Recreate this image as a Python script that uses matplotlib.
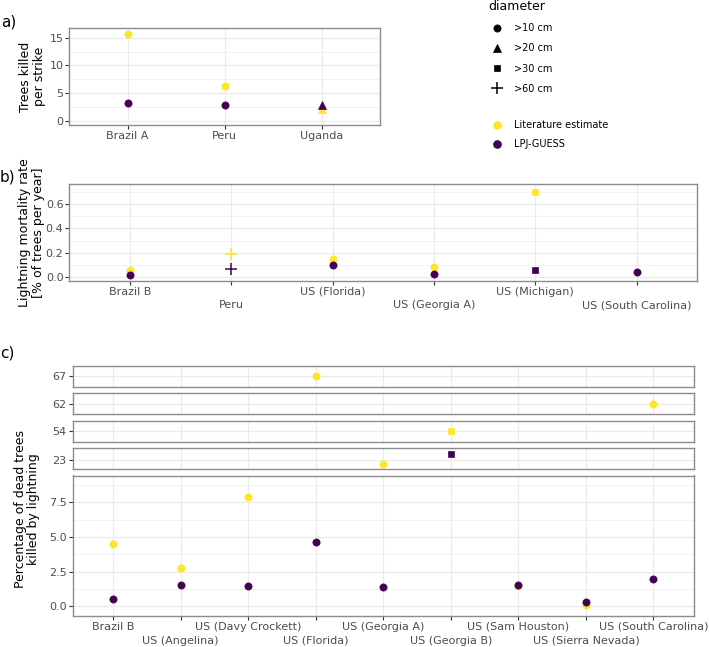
import numpy as np
import matplotlib
matplotlib.use("Agg")
import matplotlib.pyplot as plt
from matplotlib.lines import Line2D
from matplotlib.ticker import FixedLocator
from matplotlib.transforms import ScaledTranslation

# ---- data ----
a_sites = ["Brazil A", "Peru", "Uganda"]
a_lit = [15.6, 6.35, 2.1]
a_lpj = [3.24, 2.82, 2.88]
a_diam = [">10 cm", ">10 cm", ">20 cm"]

b_sites = ["Brazil B", "Peru", "US (Florida)", "US (Georgia A)", "US (Michigan)", "US (South Carolina)"]
b_lit = [0.058, 0.19, 0.145, 0.085, 0.696, np.nan]
b_lpj = [0.016, 0.063, 0.096, 0.027, 0.055, 0.038]
b_diam = [">10 cm", ">60 cm", ">10 cm", ">10 cm", ">30 cm", ">10 cm"]

c_sites = ["Brazil B", "US (Angelina)", "US (Davy Crockett)", "US (Florida)", "US (Georgia A)",
           "US (Georgia B)", "US (Sam Houston)", "US (Sierra Nevada)", "US (South Carolina)"]
c_lit = [4.49, 2.78, 7.88, 67, 22, 54, 1.45, 0.1, 62]
c_lpj = [0.55, 1.54, 1.46, 4.66, 1.39, 24.5, 1.54, 0.29, 1.99]
c_diam = [">10 cm"] * 5 + [">30 cm"] + [">10 cm"] * 3

# broken axis segments of panel c (tick shown, limits)
c_breaks = [67, 62, 54, 23]
c_break_lims = [(64.4, 69.5), (59.35, 64.6), (51.4, 56.65), (20.75, 25.85)]

diam_classes = [">10 cm", ">20 cm", ">30 cm", ">60 cm"]
markers = {">10 cm": "o", ">20 cm": "^", ">30 cm": "s", ">60 cm": "+"}
msize = {"o": 5.2, "^": 5.6, "s": 5.0, "+": 8}
col_lit = "#FDE725"
col_lpj = "#440154"
grid_col = "#EBEBEB"
spine_col = "#8C8C8C"
txt_col = "#4D4D4D"

W, H = 709, 647
fig = plt.figure(figsize=(W / 100, H / 100), dpi=100)


def add_px(l, t, r, b):
    return fig.add_axes([l / W, 1 - b / H, (r - l) / W, (b - t) / H])


def style(ax, xticks=True):
    for s in ax.spines.values():
        s.set_color(spine_col)
        s.set_linewidth(1.0)
    ax.set_axisbelow(True)
    ax.grid(True, which="major", color=grid_col, lw=0.9)
    ax.grid(True, which="minor", axis="y", color=grid_col, lw=0.5)
    ax.tick_params(which="major", length=2.75, width=0.8, color="#333333",
                   labelsize=8, labelcolor=txt_col, pad=1.5)
    ax.tick_params(which="minor", length=0)
    if not xticks:
        ax.tick_params(axis="x", length=0, labelbottom=False)


def draw_points(ax, vals, diam, color):
    vals = np.asarray(vals, dtype=float)
    x = np.arange(len(vals))
    for d in diam_classes:
        idx = [i for i in range(len(vals)) if diam[i] == d and not np.isnan(vals[i])]
        if not idx:
            continue
        m = markers[d]
        ax.plot(x[idx], vals[idx], linestyle="none", marker=m, color=color,
                ms=msize[m], mew=1.1 if m == "+" else 0.5)


def set_cats(ax, sites, dodge=False):
    n = len(sites)
    ax.set_xlim(-0.6, n - 0.4)
    ax.set_xticks(range(n))
    ax.set_xticklabels(sites)
    if dodge:
        # second row of labels, like guide_axis(n.dodge = 2)
        shift = ScaledTranslation(0, -13.6 / 100, fig.dpi_scale_trans)
        for i, lab in enumerate(ax.get_xticklabels()):
            if i % 2 == 1:
                lab.set_transform(lab.get_transform() + shift)


# ---- panel a ----
ax_a = add_px(69.3, 28.3, 380, 125)
style(ax_a)
draw_points(ax_a, a_lit, a_diam, col_lit)
draw_points(ax_a, a_lpj, a_diam, col_lpj)
set_cats(ax_a, a_sites)
ax_a.set_ylim(-0.72, 16.7)
ax_a.yaxis.set_major_locator(FixedLocator([0, 5, 10, 15]))
ax_a.yaxis.set_minor_locator(FixedLocator([2.5, 7.5, 12.5]))

# ---- panel b ----
ax_b = add_px(69.3, 184.3, 697.3, 280.7)
style(ax_b)
draw_points(ax_b, b_lit, b_diam, col_lit)
draw_points(ax_b, b_lpj, b_diam, col_lpj)
set_cats(ax_b, b_sites, dodge=True)
ax_b.set_ylim(-0.03, 0.762)
ax_b.yaxis.set_major_locator(FixedLocator([0, 0.2, 0.4, 0.6]))
ax_b.yaxis.set_minor_locator(FixedLocator([0.1, 0.3, 0.5, 0.7]))
ax_b.set_yticklabels(["0.0", "0.2", "0.4", "0.6"])

# ---- panel c: stacked strips for large values ----
strip_px = [(366.3, 386.7), (393.3, 414.3), (420.7, 441.7), (448.3, 468.7)]
for (t, b), brk, lim in zip(strip_px, c_breaks, c_break_lims):
    ax_s = add_px(72.5, t, 694, b)
    style(ax_s, xticks=False)
    draw_points(ax_s, c_lit, c_diam, col_lit)
    draw_points(ax_s, c_lpj, c_diam, col_lpj)
    set_cats(ax_s, c_sites)
    ax_s.set_ylim(*lim)
    ax_s.set_yticks([brk])
    ax_s.set_yticklabels([str(brk)])

ax_c = add_px(72.5, 475.5, 694, 616)
style(ax_c)
draw_points(ax_c, c_lit, c_diam, col_lit)
draw_points(ax_c, c_lpj, c_diam, col_lpj)
set_cats(ax_c, c_sites, dodge=True)
ax_c.set_ylim(-0.70, 9.43)
ax_c.yaxis.set_major_locator(FixedLocator([0, 2.5, 5, 7.5]))
ax_c.yaxis.set_minor_locator(FixedLocator([1.25, 3.75, 6.25, 8.75]))
ax_c.set_yticklabels(["0.0", "2.5", "5.0", "7.5"])

# ---- axis titles and panel letters ----
fig.text(32.5 / W, 1 - 76.7 / H, "Trees killed\nper strike", rotation=90,
         ha="center", va="center", ma="center", fontsize=9, color="black", linespacing=1.05)
fig.text(31.5 / W, 1 - 232.5 / H, "Lightning mortality rate\n[% of trees per year]", rotation=90,
         ha="center", va="center", ma="center", fontsize=9, color="black", linespacing=1.05)
fig.text(27 / W, 1 - 508.7 / H, "Percentage of dead trees\nkilled by lightning", rotation=90,
         ha="center", va="center", ma="center", fontsize=9, color="black", linespacing=1.05)

fig.text(1 / W, 1 - 21.7 / H, "a)", fontsize=11, va="center", ha="left")
fig.text(0 / W, 1 - 176.7 / H, "b)", fontsize=11, va="center", ha="left")
fig.text(0 / W, 1 - 353.3 / H, "c)", fontsize=11, va="center", ha="left")

# ---- legends ----
shape_handles = [Line2D([], [], linestyle="none", marker=markers[d], color="black",
                        ms=msize[markers[d]], mew=1.1 if markers[d] == "+" else 0.5)
                 for d in diam_classes]
leg1 = fig.legend(shape_handles, diam_classes, title="diameter", loc="upper left",
                  bbox_to_anchor=(488 / W, 1.0), frameon=False, fontsize=7,
                  title_fontsize=9, handlelength=1.8, handletextpad=0.88,
                  labelspacing=1.05, borderpad=0, borderaxespad=0, alignment="left")
col_handles = [Line2D([], [], linestyle="none", marker="o", color=c, ms=5.2)
               for c in (col_lit, col_lpj)]
leg2 = fig.legend(col_handles, ["Literature estimate", "LPJ-GUESS"], loc="upper left",
                  bbox_to_anchor=(488 / W, 1 - 120 / H), frameon=False, fontsize=7,
                  handlelength=1.8, handletextpad=0.88, labelspacing=0.95,
                  borderpad=0, borderaxespad=0)

fig.savefig("out.png", dpi=100)
